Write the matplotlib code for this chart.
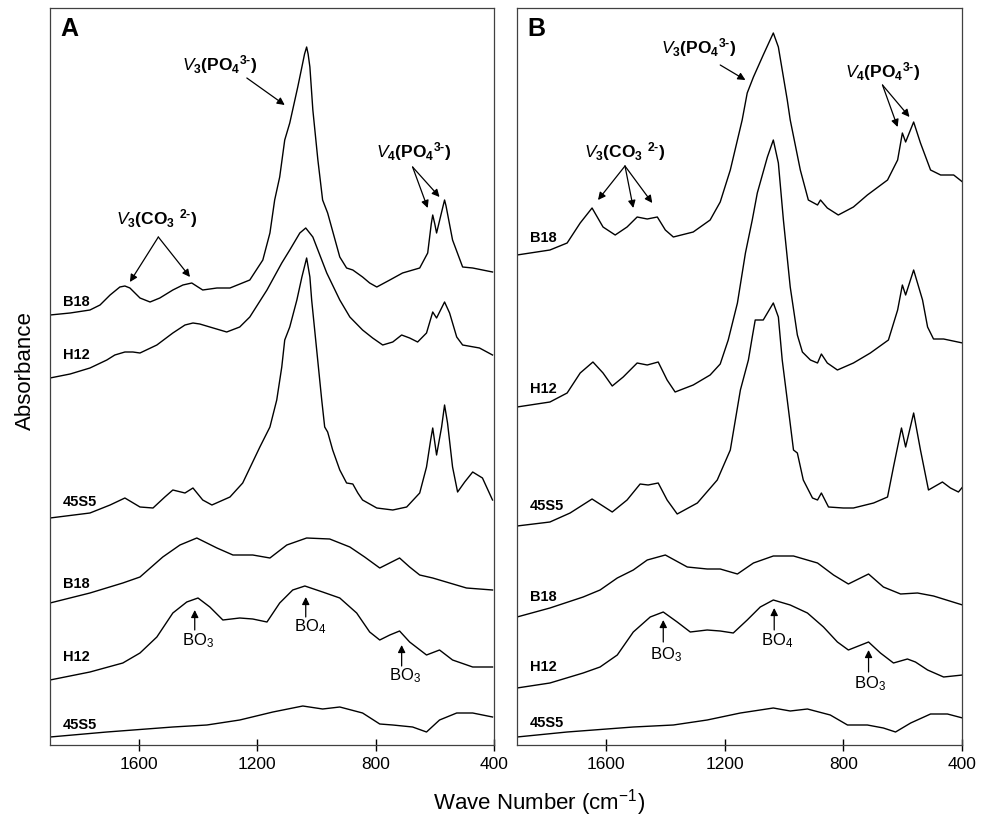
import matplotlib
matplotlib.use("Agg")
import matplotlib.pyplot as plt

# FontSetup
plt.rcParams['font.family'] = 'Liberation Sans'
plt.rcParams['mathtext.fontset'] = 'custom'
plt.rcParams['mathtext.rm'] = 'Liberation Sans:bold'
plt.rcParams['mathtext.bf'] = 'Liberation Sans:bold'
plt.rcParams['mathtext.it'] = 'Liberation Sans:italic'
plt.rcParams['mathtext.sf'] = 'Liberation Sans'

# Panel A spectra (wave number, absorbance as plotted, stacked)
a_b18_wn = [1900, 1832, 1765, 1731, 1697, 1664, 1647, 1630, 1596, 1562, 1529, 1485, 1451, 1421, 1400,
            1384, 1336, 1292, 1225, 1181, 1157, 1141, 1124, 1107, 1090, 1063, 1049, 1040, 1033, 1028,
            1022, 1012, 995, 979, 962, 921, 898, 877, 844, 820, 796, 752, 709, 651, 624, 612, 607,
            600, 594, 572, 567, 562, 540, 506, 472, 405]
a_b18_ab = [4.29, 4.31, 4.34, 4.39, 4.49, 4.57, 4.58, 4.56, 4.46, 4.42, 4.46, 4.54, 4.59, 4.61, 4.57,
            4.54, 4.56, 4.56, 4.64, 4.84, 5.11, 5.44, 5.67, 6.04, 6.21, 6.57, 6.77, 6.90, 6.97, 6.90,
            6.77, 6.34, 5.84, 5.44, 5.31, 4.87, 4.76, 4.74, 4.67, 4.61, 4.57, 4.64, 4.71, 4.76, 4.91,
            5.20, 5.29, 5.20, 5.11, 5.38, 5.44, 5.38, 5.04, 4.77, 4.76, 4.72]

a_h12_wn = [1900, 1832, 1765, 1708, 1681, 1647, 1620, 1596, 1539, 1485, 1444, 1417, 1394, 1360, 1303,
            1259, 1225, 1167, 1117, 1090, 1056, 1036, 1012, 965, 921, 887, 844, 810, 776, 742, 712,
            685, 658, 628, 607, 594, 567, 550, 526, 506, 449, 405]
a_h12_ab = [3.66, 3.70, 3.76, 3.84, 3.89, 3.92, 3.92, 3.91, 3.99, 4.11, 4.19, 4.21, 4.20, 4.17, 4.12,
            4.17, 4.27, 4.54, 4.81, 4.94, 5.11, 5.16, 5.07, 4.71, 4.44, 4.27, 4.14, 4.06, 3.99, 4.02,
            4.09, 4.06, 4.02, 4.11, 4.32, 4.26, 4.42, 4.31, 4.07, 3.99, 3.96, 3.89]

a_45s5_wn = [1900, 1765, 1697, 1647, 1596, 1552, 1512, 1485, 1444, 1417, 1384, 1353, 1292, 1249, 1191,
             1157, 1134, 1117, 1107, 1090, 1066, 1049, 1033, 1022, 1016, 999, 982, 972, 962, 945, 921,
             898, 877, 860, 844, 796, 742, 695, 651, 628, 614, 607, 594, 577, 567, 557, 540, 523, 499,
             472, 439, 405]
a_45s5_ab = [2.26, 2.31, 2.39, 2.46, 2.37, 2.36, 2.47, 2.54, 2.51, 2.56, 2.44, 2.39, 2.47, 2.61, 2.97,
             3.17, 3.44, 3.77, 4.04, 4.17, 4.44, 4.67, 4.86, 4.67, 4.44, 3.94, 3.44, 3.17, 3.12, 2.94,
             2.74, 2.61, 2.60, 2.51, 2.44, 2.36, 2.34, 2.37, 2.51, 2.77, 3.04, 3.16, 2.89, 3.17, 3.39,
             3.21, 2.77, 2.52, 2.62, 2.72, 2.66, 2.44]

a_b18g_wn = [1900, 1765, 1654, 1596, 1519, 1461, 1404, 1336, 1282, 1215, 1157, 1100, 1033, 955, 887,
             837, 786, 719, 685, 651, 607, 550, 493, 405]
a_b18g_ab = [1.41, 1.51, 1.61, 1.67, 1.87, 1.99, 2.06, 1.96, 1.89, 1.89, 1.86, 1.99, 2.06, 2.05, 1.97,
             1.87, 1.76, 1.86, 1.77, 1.69, 1.66, 1.61, 1.56, 1.54]

a_h12g_wn = [1900, 1765, 1654, 1596, 1539, 1485, 1438, 1400, 1360, 1316, 1259, 1215, 1167, 1124, 1080,
             1039, 979, 921, 864, 820, 786, 752, 719, 685, 628, 584, 540, 472, 405]
a_h12g_ab = [0.64, 0.72, 0.81, 0.91, 1.07, 1.31, 1.42, 1.46, 1.37, 1.24, 1.26, 1.25, 1.22, 1.41, 1.54,
             1.58, 1.52, 1.46, 1.31, 1.12, 1.04, 1.09, 1.13, 1.02, 0.89, 0.94, 0.84, 0.77, 0.77]

a_45s5g_wn = [1900, 1708, 1485, 1370, 1259, 1147, 1046, 979, 921, 844, 786, 742, 675, 628, 584, 526,
              472, 405]
a_45s5g_ab = [0.07, 0.12, 0.17, 0.19, 0.24, 0.32, 0.38, 0.35, 0.37, 0.31, 0.20, 0.19, 0.17, 0.12, 0.24,
              0.31, 0.31, 0.27]

# Panel B spectra
b_b18_wn = [1900, 1789, 1731, 1687, 1647, 1610, 1569, 1529, 1495, 1461, 1427, 1400, 1373, 1306, 1249,
            1215, 1181, 1141, 1124, 1103, 1070, 1036, 1019, 989, 979, 945, 918, 887, 877, 854, 817,
            766, 719, 651, 617, 601, 590, 563, 540, 506, 472, 428, 398]
b_b18_ab = [4.89, 4.94, 5.01, 5.21, 5.36, 5.17, 5.09, 5.17, 5.27, 5.25, 5.27, 5.14, 5.07, 5.12, 5.24,
            5.42, 5.74, 6.24, 6.51, 6.67, 6.89, 7.11, 6.97, 6.44, 6.24, 5.74, 5.44, 5.39, 5.44, 5.36,
            5.29, 5.37, 5.49, 5.64, 5.84, 6.11, 6.02, 6.22, 6.01, 5.74, 5.69, 5.69, 5.62]

b_h12_wn = [1900, 1789, 1731, 1687, 1644, 1610, 1579, 1542, 1495, 1461, 1424, 1394, 1367, 1306, 1249,
            1215, 1188, 1157, 1130, 1107, 1090, 1056, 1036, 1019, 1002, 979, 955, 938, 911, 887, 874,
            854, 820, 766, 709, 648, 617, 601, 590, 563, 533, 516, 496, 462, 398]
b_h12_ab = [3.37, 3.42, 3.51, 3.71, 3.82, 3.71, 3.58, 3.67, 3.81, 3.79, 3.82, 3.64, 3.52, 3.59, 3.69,
            3.80, 4.04, 4.41, 4.91, 5.24, 5.51, 5.87, 6.04, 5.81, 5.24, 4.57, 4.09, 3.92, 3.84, 3.81,
            3.90, 3.81, 3.74, 3.81, 3.91, 4.04, 4.34, 4.59, 4.49, 4.74, 4.44, 4.17, 4.05, 4.05, 4.01]

b_45s5_wn = [1900, 1789, 1721, 1647, 1579, 1529, 1485, 1458, 1424, 1394, 1360, 1292, 1225, 1181, 1147,
             1120, 1107, 1097, 1070, 1036, 1019, 1006, 989, 968, 955, 935, 904, 887, 874, 850, 800, 766,
             698, 651, 631, 604, 590, 563, 540, 513, 466, 439, 412, 398]
b_45s5_ab = [2.18, 2.22, 2.31, 2.45, 2.32, 2.44, 2.60, 2.59, 2.61, 2.44, 2.30, 2.41, 2.64, 2.94, 3.54,
             3.84, 4.07, 4.24, 4.24, 4.41, 4.27, 3.84, 3.44, 2.94, 2.91, 2.64, 2.46, 2.44, 2.51, 2.37,
             2.36, 2.36, 2.41, 2.47, 2.77, 3.16, 2.97, 3.31, 2.94, 2.54, 2.62, 2.56, 2.52, 2.57]

b_b18g_wn = [1900, 1789, 1677, 1620, 1562, 1508, 1461, 1400, 1326, 1259, 1215, 1157, 1103, 1036, 968,
             887, 833, 783, 715, 665, 607, 550, 496, 398]
b_b18g_ab = [1.27, 1.36, 1.47, 1.54, 1.66, 1.74, 1.84, 1.89, 1.77, 1.75, 1.75, 1.70, 1.81, 1.88, 1.88,
             1.81, 1.69, 1.60, 1.70, 1.57, 1.50, 1.51, 1.48, 1.39]

b_h12g_wn = [1900, 1789, 1677, 1620, 1562, 1508, 1451, 1407, 1360, 1316, 1259, 1215, 1171, 1124, 1080,
             1036, 979, 921, 867, 820, 783, 749, 715, 675, 631, 584, 557, 516, 462, 398]
b_h12g_ab = [0.56, 0.61, 0.71, 0.77, 0.89, 1.12, 1.27, 1.32, 1.22, 1.12, 1.14, 1.13, 1.11, 1.24, 1.37,
             1.44, 1.39, 1.31, 1.17, 1.02, 0.94, 0.98, 1.02, 0.91, 0.81, 0.85, 0.82, 0.74, 0.67, 0.69]

b_45s5g_wn = [1900, 1731, 1508, 1373, 1259, 1147, 1036, 979, 921, 844, 786, 719, 665, 624, 573, 506,
              449, 398]
b_45s5g_ab = [0.07, 0.12, 0.17, 0.19, 0.24, 0.31, 0.36, 0.33, 0.35, 0.29, 0.19, 0.19, 0.16, 0.12, 0.21,
              0.30, 0.30, 0.26]

sample_names = ["B18", "H12", "45S5", "B18", "H12", "45S5"]
a_label_y = [4.42, 3.89, 2.42, 1.60, 0.87, 0.19]
b_label_y = [5.06, 3.55, 2.38, 1.47, 0.77, 0.21]
x_ticks = [1600, 1200, 800, 400]

fig = plt.figure(figsize=(9.88, 8.17), dpi=100)
axA = fig.add_axes([50/988, 72/817, 444/988, 737/817])
axB = fig.add_axes([517/988, 72/817, 445/988, 737/817])

a_curves = [(a_b18_wn, a_b18_ab), (a_h12_wn, a_h12_ab), (a_45s5_wn, a_45s5_ab),
            (a_b18g_wn, a_b18g_ab), (a_h12g_wn, a_h12g_ab), (a_45s5g_wn, a_45s5g_ab)]
b_curves = [(b_b18_wn, b_b18_ab), (b_h12_wn, b_h12_ab), (b_45s5_wn, b_45s5_ab),
            (b_b18g_wn, b_b18g_ab), (b_h12g_wn, b_h12g_ab), (b_45s5g_wn, b_45s5g_ab)]

for ax, curves, label_y, letter in [(axA, a_curves, a_label_y, "A"), (axB, b_curves, b_label_y, "B")]:
    for (wn, ab) in curves:
        ax.plot(wn, ab, color="black", lw=1.0, solid_joinstyle="round")
    for name, yy in zip(sample_names, label_y):
        ax.text(1856, yy, name, fontsize=10.5, fontweight="bold", ha="left", va="center")
    ax.set_xlim(1900, 400)
    ax.set_ylim(-0.01, 7.36)
    ax.set_xticks(x_ticks)
    ax.set_yticks([])
    ax.tick_params(axis="x", direction="inout", length=9, width=1, labelsize=12.5, pad=4)
    for sp in ax.spines.values():
        sp.set_linewidth(0.9)
        sp.set_color("0.25")
    ax.text(0.024, 0.972, letter, transform=ax.transAxes, fontsize=18, fontweight="bold",
            ha="left", va="center")

# Annotations
arrow = dict(arrowstyle="-|>", color="black", lw=0.9, mutation_scale=11, shrinkA=0, shrinkB=0)
po3 = r"$\mathit{V}_3$(PO$_4$$^{3\text{-}}$)"
po4 = r"$\mathit{V}_4$(PO$_4$$^{3\text{-}}$)"
co3 = r"$\mathit{V}_3$(CO$_3$ $^{2\text{-}}$)"


def label_arrows(ax, txt, tx, ty, sx, sy, targets, size=12.5, bold=True):
    ax.text(tx, ty, txt, fontsize=size, fontweight="bold" if bold else "normal",
            ha="center", va="center")
    for (ex, ey) in targets:
        ax.annotate("", xy=(ex, ey), xytext=(sx, sy), arrowprops=arrow)


label_arrows(axA, po3, 1326, 6.79, 1235, 6.66, [(1107, 6.39)])
label_arrows(axA, po4, 672, 5.92, 675, 5.77, [(624, 5.36), (584, 5.47)])
label_arrows(axA, co3, 1539, 5.25, 1534, 5.07, [(1630, 4.62), (1427, 4.67)])
label_arrows(axA, r"BO$_\mathsf{3}$", 1400, 1.03, 1411, 1.14, [(1411, 1.34)], size=12, bold=False)
label_arrows(axA, r"BO$_\mathsf{4}$", 1022, 1.17, 1036, 1.27, [(1036, 1.47)], size=12, bold=False)
label_arrows(axA, r"BO$_\mathsf{3}$", 702, 0.68, 712, 0.78, [(712, 0.99)], size=12, bold=False)

label_arrows(axB, po3, 1289, 6.96, 1215, 6.79, [(1130, 6.64)])
label_arrows(axB, po4, 668, 6.72, 668, 6.59, [(617, 6.17), (577, 6.27)])
label_arrows(axB, co3, 1536, 5.92, 1536, 5.78, [(1627, 5.44), (1508, 5.36), (1444, 5.41)])
label_arrows(axB, r"BO$_\mathsf{3}$", 1397, 0.89, 1407, 1.02, [(1407, 1.24)], size=12, bold=False)
label_arrows(axB, r"BO$_\mathsf{4}$", 1022, 1.03, 1033, 1.14, [(1033, 1.36)], size=12, bold=False)
label_arrows(axB, r"BO$_\mathsf{3}$", 709, 0.60, 715, 0.72, [(715, 0.94)], size=12, bold=False)

fig.text(25/988, 1 - 371/817, "Absorbance", rotation=90, fontsize=16, ha="center", va="center")
fig.text(539/988, 1 - 803/817, r"Wave Number (cm$^{\mathsf{-1}}$)", fontsize=16, ha="center", va="center")

plt.savefig("out.png", dpi=100)
